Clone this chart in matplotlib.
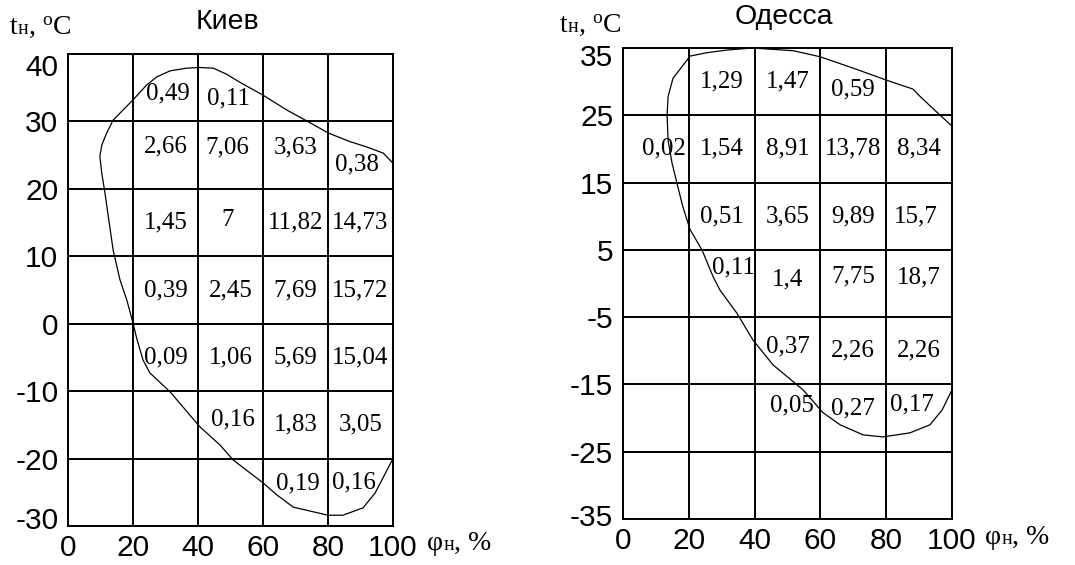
import numpy as np
import matplotlib
matplotlib.use("Agg")
import matplotlib.pyplot as plt
from matplotlib.transforms import ScaledTranslation
from matplotlib.offsetbox import TextArea, HPacker, AnnotationBbox

plt.rcParams["mathtext.fontset"] = "custom"
plt.rcParams["mathtext.rm"] = "Liberation Serif"
plt.rcParams["mathtext.it"] = "Liberation Serif:italic"
plt.rcParams["axes.unicode_minus"] = False

SANS = "Liberation Sans"
SERIF = "Liberation Serif"

# ---------------- data ----------------
humidity_bins = [0, 20, 40, 60, 80, 100]

kiev_title = "Киев"
kiev_temp_bins = [40, 30, 20, 10, 0, -10, -20, -30]
nan = np.nan
kiev_freq = [
    [nan, 0.49, 0.11, nan, nan],
    [nan, 2.66, 7.06, 3.63, 0.38],
    [nan, 1.45, 7.00, 11.82, 14.73],
    [nan, 0.39, 2.45, 7.69, 15.72],
    [nan, 0.09, 1.06, 5.69, 15.04],
    [nan, nan, 0.16, 1.83, 3.05],
    [nan, nan, nan, 0.19, 0.16],
]
kiev_env_phi = [100, 97, 92, 86.8, 80, 74.5, 67.3, 60, 52.9, 48.8, 44.7, 40.6,
                36.5, 31.4, 27.3, 24.2, 20, 13.9, 11.9, 10.4, 9.8, 10.4, 11.4,
                12.4, 13.9, 16.0, 18.1, 20, 21.1, 23.1, 25.2, 31.4, 40.6, 46.8,
                50.8, 60, 64.3, 69.3, 80, 84.6, 90.8, 94.5, 100]
kiev_env_t = [23.8, 25.3, 26.2, 27.0, 28.3, 29.8, 31.7, 33.9, 35.8, 37.0, 37.9,
              38.0, 37.9, 37.5, 36.6, 35.4, 33.2, 30.2, 28.3, 26.5, 24.8, 22.3,
              19.3, 15.9, 10.9, 6.5, 3.5, 0.1, -2.1, -5.4, -7.3, -10.1, -15.3,
              -18.0, -20.2, -23.6, -25.4, -27.2, -28.4, -28.4, -27.3, -25.1, -20.0]

odessa_title = "Одесса"
odessa_temp_bins = [35, 25, 15, 5, -5, -15, -25, -35]
odessa_freq = [
    [nan, 1.29, 1.47, 0.59, nan],
    [0.02, 1.54, 8.91, 13.78, 8.34],
    [nan, 0.51, 3.65, 9.89, 15.7],
    [nan, 0.11, 1.4, 7.75, 18.7],
    [nan, nan, 0.37, 2.26, 2.26],
    [nan, nan, 0.05, 0.27, 0.17],
    [nan, nan, nan, nan, nan],
]
odessa_env_phi = [100, 96.4, 90.3, 88.1, 80.2, 70, 59.9, 51.7, 43.8, 39.5, 31.6,
                  25.5, 20.4, 15.2, 13.7, 13.4, 13.7, 14.9, 16.4, 18.2, 20.4,
                  24.0, 27.4, 29.5, 34.6, 39.5, 45.6, 54.7, 60.8, 66.0, 73.0,
                  79, 87.2, 93.3, 97, 100]
odessa_env_t = [23.4, 25.0, 27.8, 28.9, 30.2, 32.0, 33.7, 34.6, 34.85, 35, 34.7,
                34.3, 33.8, 30.5, 27.8, 25.0, 21.3, 17.9, 14.9, 11.4, 8.0, 5.0,
                1.0, -1.0, -4.4, -8.4, -12.1, -15.8, -19.2, -21.0, -22.5, -22.8,
                -22.2, -21.0, -18.8, -15.8]

# label nudges inside cells, in pixels (dx, dy)
kiev_nudge = {(0, 1): (2, -6), (0, 2): (-2, -11), (1, 1): (0, 9), (1, 2): (-3, 8),
              (1, 3): (0, 8), (1, 4): (-4, -9), (2, 2): (-3, 3), (5, 2): (2, 5),
              (6, 3): (2, 9), (6, 4): (-7, 10)}
odessa_nudge = {(0, 3): (0, -8), (1, 0): (8, 0), (2, 4): (-3, 0), (3, 1): (12, 16),
                (3, 2): (0, 4), (3, 3): (0, 7), (3, 4): (0, 6), (4, 2): (0, 4),
                (5, 2): (4, 13), (5, 3): (0, 10), (5, 4): (-7, 14)}


def fmt(v):
    return f"{v:g}".replace(".", ",")


def shift(label, fig, dy_px):
    label.set_transform(label.get_transform() +
                        ScaledTranslation(0, dy_px / 100, fig.dpi_scale_trans))


def axis_label(ax, main, sub, tail, anchor, offset, size=20):
    """Symbol with a reduced-size index letter, e.g. t with н."""
    parts = [TextArea(main, textprops=dict(fontfamily=SERIF, fontsize=size)),
             TextArea(sub, textprops=dict(fontfamily=SERIF, fontsize=size * 0.72)),
             TextArea(tail, textprops=dict(fontfamily=SERIF, fontsize=size))]
    box = HPacker(children=parts, align="baseline", pad=0, sep=0)
    ab = AnnotationBbox(box, anchor, xycoords="axes fraction", xybox=offset,
                        boxcoords="offset pixels", box_alignment=(0, 0.5),
                        frameon=False, pad=0, annotation_clip=False)
    ax.add_artist(ab)


def draw_panel(fig, rect, title, tbins, freq, env_phi, env_t, nudge,
               xlab_off, ylab_off, title_dy, end_shift):
    ax = fig.add_axes(rect)
    ax.set_xlim(humidity_bins[0], humidity_bins[-1])
    ax.set_ylim(tbins[-1], tbins[0])
    ax.set_xticks(humidity_bins)
    ax.set_yticks(tbins)
    ax.grid(True, color="black", linewidth=1.4)
    for s in ax.spines.values():
        s.set_linewidth(1.4)
    ax.tick_params(length=0, labelsize=21.5)
    ax.tick_params(axis="y", pad=7)
    ax.tick_params(axis="x", pad=6)
    for lab in ax.get_xticklabels() + ax.get_yticklabels():
        lab.set_fontfamily(SANS)

    # nudge the end tick labels inward (labels follow tbins order: top first)
    ylabs = ax.get_yticklabels()
    top_dy, bot_dy = end_shift
    shift(ylabs[0], fig, top_dy)
    shift(ylabs[-1], fig, bot_dy)

    # cell values
    for i in range(len(tbins) - 1):
        yc = (tbins[i] + tbins[i + 1]) / 2
        for j in range(len(humidity_bins) - 1):
            v = freq[i][j]
            if np.isnan(v):
                continue
            xc = (humidity_bins[j] + humidity_bins[j + 1]) / 2
            dx, dy = nudge.get((i, j), (0, 0))
            ax.annotate(fmt(v), (xc, yc), xytext=(dx, dy),
                        textcoords="offset pixels", ha="center", va="center",
                        fontfamily=SERIF, fontsize=18)

    # envelope
    ax.plot(env_phi, env_t, color="black", linewidth=0.9, clip_on=False)

    ax.annotate(title, (0.49, 1), xycoords="axes fraction", xytext=(0, title_dy),
                textcoords="offset pixels", ha="center", va="center",
                fontfamily=SANS, fontsize=20.5)
    axis_label(ax, "φ", "н", ", %", (1, 0), xlab_off)
    axis_label(ax, "t", "н", r", $^{\mathrm{o}}$C", (0, 1), ylab_off)
    return ax


fig = plt.figure(figsize=(10.75, 5.65), dpi=100)
draw_panel(fig, [68 / 1075, 39 / 565, 325 / 1075, 472 / 565], kiev_title,
           kiev_temp_bins, kiev_freq, kiev_env_phi, kiev_env_t, kiev_nudge,
           xlab_off=(34, -17), ylab_off=(-58, 27), title_dy=32, end_shift=(-11, 8))
draw_panel(fig, [623 / 1075, 46 / 565, 329 / 1075, 471 / 565], odessa_title,
           odessa_temp_bins, odessa_freq, odessa_env_phi, odessa_env_t, odessa_nudge,
           xlab_off=(33, -18), ylab_off=(-63, 23), title_dy=31, end_shift=(-7, 4))
fig.savefig("out.png", dpi=100, facecolor="white")
